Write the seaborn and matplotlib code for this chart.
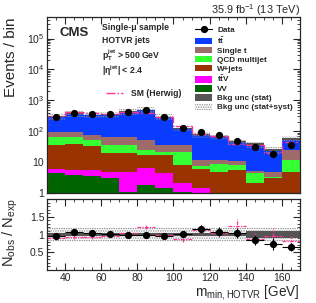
import numpy as np
import pandas as pd
import seaborn as sns
import matplotlib.pyplot as plt
from matplotlib.patches import Patch
from matplotlib.lines import Line2D
from matplotlib.ticker import MultipleLocator, FixedLocator, FuncFormatter, LogLocator, NullFormatter

sns.set_style("ticks")
plt.rcParams['font.family'] = ['Liberation Sans', 'DejaVu Sans']
plt.rcParams['mathtext.fontset'] = 'custom'
plt.rcParams['mathtext.rm'] = 'Liberation Sans'
plt.rcParams['mathtext.it'] = 'Liberation Sans:italic'
plt.rcParams['mathtext.bf'] = 'Liberation Sans:bold'
plt.rcParams['hatch.linewidth'] = 0.7

# bin edges of m_min,HOTVR [GeV]
edges = list(range(30, 171, 10))
centers = np.array(edges[:-1]) + 5

# background components (events / bin)
ttbar    = [204, 276, 260, 285, 362, 437, 255, 89, 67, 56, 36, 33, 20, 31]
single_t = [34, 32, 24, 28, 27, 27, 14, 15, 4.5, 3.3, 2.9, 0.5, 1.5, 13.2]
qcd      = [28, 28, 19, 16, 17, 8, 5, 12.9, 1.3, 3.9, 2.5, 2.4, 0.4, 6.9]
wjets    = [30.1, 32.6, 27.6, 15.1, 15.3, 10.6, 12.6, 6.0, 4.8, 4.2, 5.1, 1.7, 2.6, 4.4]
ttv      = [1.5, 1.6, 1.9, 1.8, 3.6, 4.6, 3.0, 1.0, 0.9, 0.3, 0.2, 0.2, 0.2, 0.2]
vv       = [4.4, 3.8, 3.5, 3.1, 1.1, 1.8, 1.4, 1.1, 0.5, 0.3, 0.3, 0.2, 0.2, 0.3]

data = [287, 396, 349, 359, 426, 484, 279, 126, 91, 73, 49, 32, 18.5, 36]
herwig_ratio = [0.91, 0.93, 0.93, 0.97, 1.04, 1.21, 1.00, 0.86, 1.14, 1.05, 1.25, 0.88, 0.95, 0.82]

# relative uncertainties
stat_unc = [0.03, 0.03, 0.03, 0.03, 0.03, 0.03, 0.03, 0.04, 0.04, 0.05, 0.05, 0.10, 0.09, 0.09]
syst_unc = [0.21, 0.21, 0.21, 0.21, 0.21, 0.21, 0.21, 0.21, 0.21, 0.21, 0.22, 0.22, 0.22, 0.22]

names = [r'$\mathbf{t\bar{t}}$', 'Single t', 'QCD multijet', 'W+jets', r'$\mathbf{t\bar{t}V}$', 'VV']
colors = ['#0a3cff', '#9e6b6b', '#33ff33', '#9a3300', '#ff00ff', '#006400']
comps = [ttbar, single_t, qcd, wjets, ttv, vv]

rows = []
for name, vals in zip(names, comps):
    for c, v in zip(centers, vals):
        rows.append({'m': c, 'w': v, 'proc': name})
df = pd.DataFrame(rows)

total = np.sum(np.array(comps), axis=0)
data = np.array(data)
stat_unc = np.array(stat_unc)
syst_unc = np.array(syst_unc)
herwig = data / np.array(herwig_ratio)

pink = '#ff3399'
hatch_col = '#8a8a8a'

fig = plt.figure(figsize=(3.16, 3.03), dpi=100)
ax = fig.add_axes([0.149, 0.363, 0.800, 0.581])
rax = fig.add_axes([0.149, 0.109, 0.800, 0.234])

sns.histplot(data=df, x='m', weights='w', hue='proc', hue_order=names,
             palette=dict(zip(names, colors)), bins=edges, multiple='stack',
             element='step', alpha=1, linewidth=0, ax=ax, legend=False)
ax.set_yscale('log')

# uncertainty bands on the stack
ax.stairs(total * (1 + syst_unc), edges, baseline=total * (1 - syst_unc), fill=True,
          facecolor='none', edgecolor=hatch_col, hatch='.......', linewidth=0)
ax.stairs(total * (1 + stat_unc), edges, baseline=total * (1 - stat_unc), fill=True,
          color='#555555', linewidth=0)
ax.stairs(herwig, edges, color=pink, linestyle='-.', linewidth=1)
ax.errorbar(centers, data, yerr=np.sqrt(data), fmt='o', color='black', ms=4.2,
            elinewidth=0.8, capsize=0)

ax.set_xlim(30, 170)
ax.set_ylim(1, 5e5)
ax.set_xlabel('')
ax.set_ylabel('Events / bin', fontsize=11)
ax.yaxis.set_label_coords(-0.115, 0.77)
ax.yaxis.set_major_locator(FixedLocator([1, 10, 1e2, 1e3, 1e4, 1e5]))
ax.yaxis.set_major_formatter(FuncFormatter(
    lambda v, p: {1: '1', 10: '10'}.get(int(round(v)), r'10$^{%d}$' % round(np.log10(v)))))
ax.yaxis.set_minor_locator(LogLocator(base=10, subs=np.arange(2, 10)))
ax.yaxis.set_minor_formatter(NullFormatter())
ax.xaxis.set_major_locator(MultipleLocator(20))
ax.xaxis.set_minor_locator(MultipleLocator(5))
ax.tick_params(axis='x', labelbottom=False)

# ratio panel
ratio = data / total
rax.stairs(1 + syst_unc, edges, baseline=1 - syst_unc, fill=True, facecolor='none',
           edgecolor=hatch_col, hatch='.......', linewidth=0)
rax.stairs(1 + stat_unc, edges, baseline=1 - stat_unc, fill=True, color='#555555', linewidth=0)
hw = rax.errorbar(centers, herwig_ratio, xerr=5, yerr=np.sqrt(data) / herwig, fmt='none',
                  ecolor=pink, elinewidth=0.9, capsize=0)
for coll in hw[2]:
    coll.set_linestyle((0, (3, 1, 1, 1)))
rax.errorbar(centers, ratio, xerr=5, yerr=np.sqrt(data) / total, fmt='o', color='black',
             ms=4.2, elinewidth=0.8, capsize=0)
rax.set_xlim(30, 170)
rax.set_ylim(0, 2)
rax.yaxis.set_major_locator(FixedLocator([0.5, 1, 1.5]))
rax.yaxis.set_major_formatter(FuncFormatter(lambda v, p: '%g' % v))
rax.yaxis.set_minor_locator(MultipleLocator(0.1))
rax.xaxis.set_major_locator(MultipleLocator(20))
rax.xaxis.set_minor_locator(MultipleLocator(5))
rax.set_xlabel(r'm$_{\mathregular{min,HOTVR}}$ [GeV]', fontsize=9.8, ha='right', va='center')
rax.xaxis.set_label_coords(1.0, -0.32)
rax.set_ylabel(r'N$_{\mathregular{obs}}$ / N$_{\mathregular{exp}}$', fontsize=10.5)
rax.yaxis.set_label_coords(-0.108, 0.52)

for a in (ax, rax):
    a.tick_params(which='both', direction='in', top=True, right=True, labelsize=7.5, pad=2)
    a.tick_params(which='major', length=5, width=0.8)
    a.tick_params(which='minor', length=2.5, width=0.6)
    for s in a.spines.values():
        s.set_linewidth(0.9)

# labels
ax.text(0.051, 0.909, 'CMS', transform=ax.transAxes, fontsize=9.5, fontweight='bold', va='center')
txt = dict(transform=ax.transAxes, fontsize=6.2, fontweight='bold', va='center')
ax.text(0.217, 0.943, 'Single-\u03bc sample', **txt)
ax.text(0.217, 0.865, 'HOTVR jets', **txt)
ax.text(0.217, 0.785, r'p$_{\mathbf{T}}^{\mathbf{jet}}$ > 500 GeV', **txt)
ax.text(0.217, 0.695, '|\u03b7' + r'$^{\mathbf{jet}}$| < 2.4', **txt)
ax.text(1.0, 1.04, r'35.9 fb$^{-1}$ (13 TeV)', transform=ax.transAxes, fontsize=7.8,
        ha='right', va='center')

sm_leg = ax.legend(handles=[Line2D([], [], color=pink, linestyle='-.', lw=1)],
                   labels=['SM (Herwig)'], loc='center left', bbox_to_anchor=(0.215, 0.566),
                   frameon=False, prop={'size': 6.2, 'weight': 'bold'}, handlelength=2.0,
                   borderpad=0, handletextpad=0.9)
ax.add_artist(sm_leg)

handles = [Line2D([], [], color='black', marker='o', ms=4.2, lw=0.8)]
handles += [Patch(facecolor=c, edgecolor='none') for c in colors]
handles += [Patch(facecolor='#555555', edgecolor='none'),
            Patch(facecolor='white', edgecolor=hatch_col, hatch='.......', lw=0)]
labels = ['Data'] + names + ['Bkg unc (stat)', 'Bkg unc (stat+syst)']
ax.legend(handles=handles, labels=labels, loc='upper left', bbox_to_anchor=(0.57, 0.972),
          frameon=False, prop={'size': 5.9, 'weight': 'bold'}, handlelength=2.1,
          handleheight=0.8, labelspacing=0.12, borderpad=0, handletextpad=0.6)

fig.savefig('out.png', dpi=100)
